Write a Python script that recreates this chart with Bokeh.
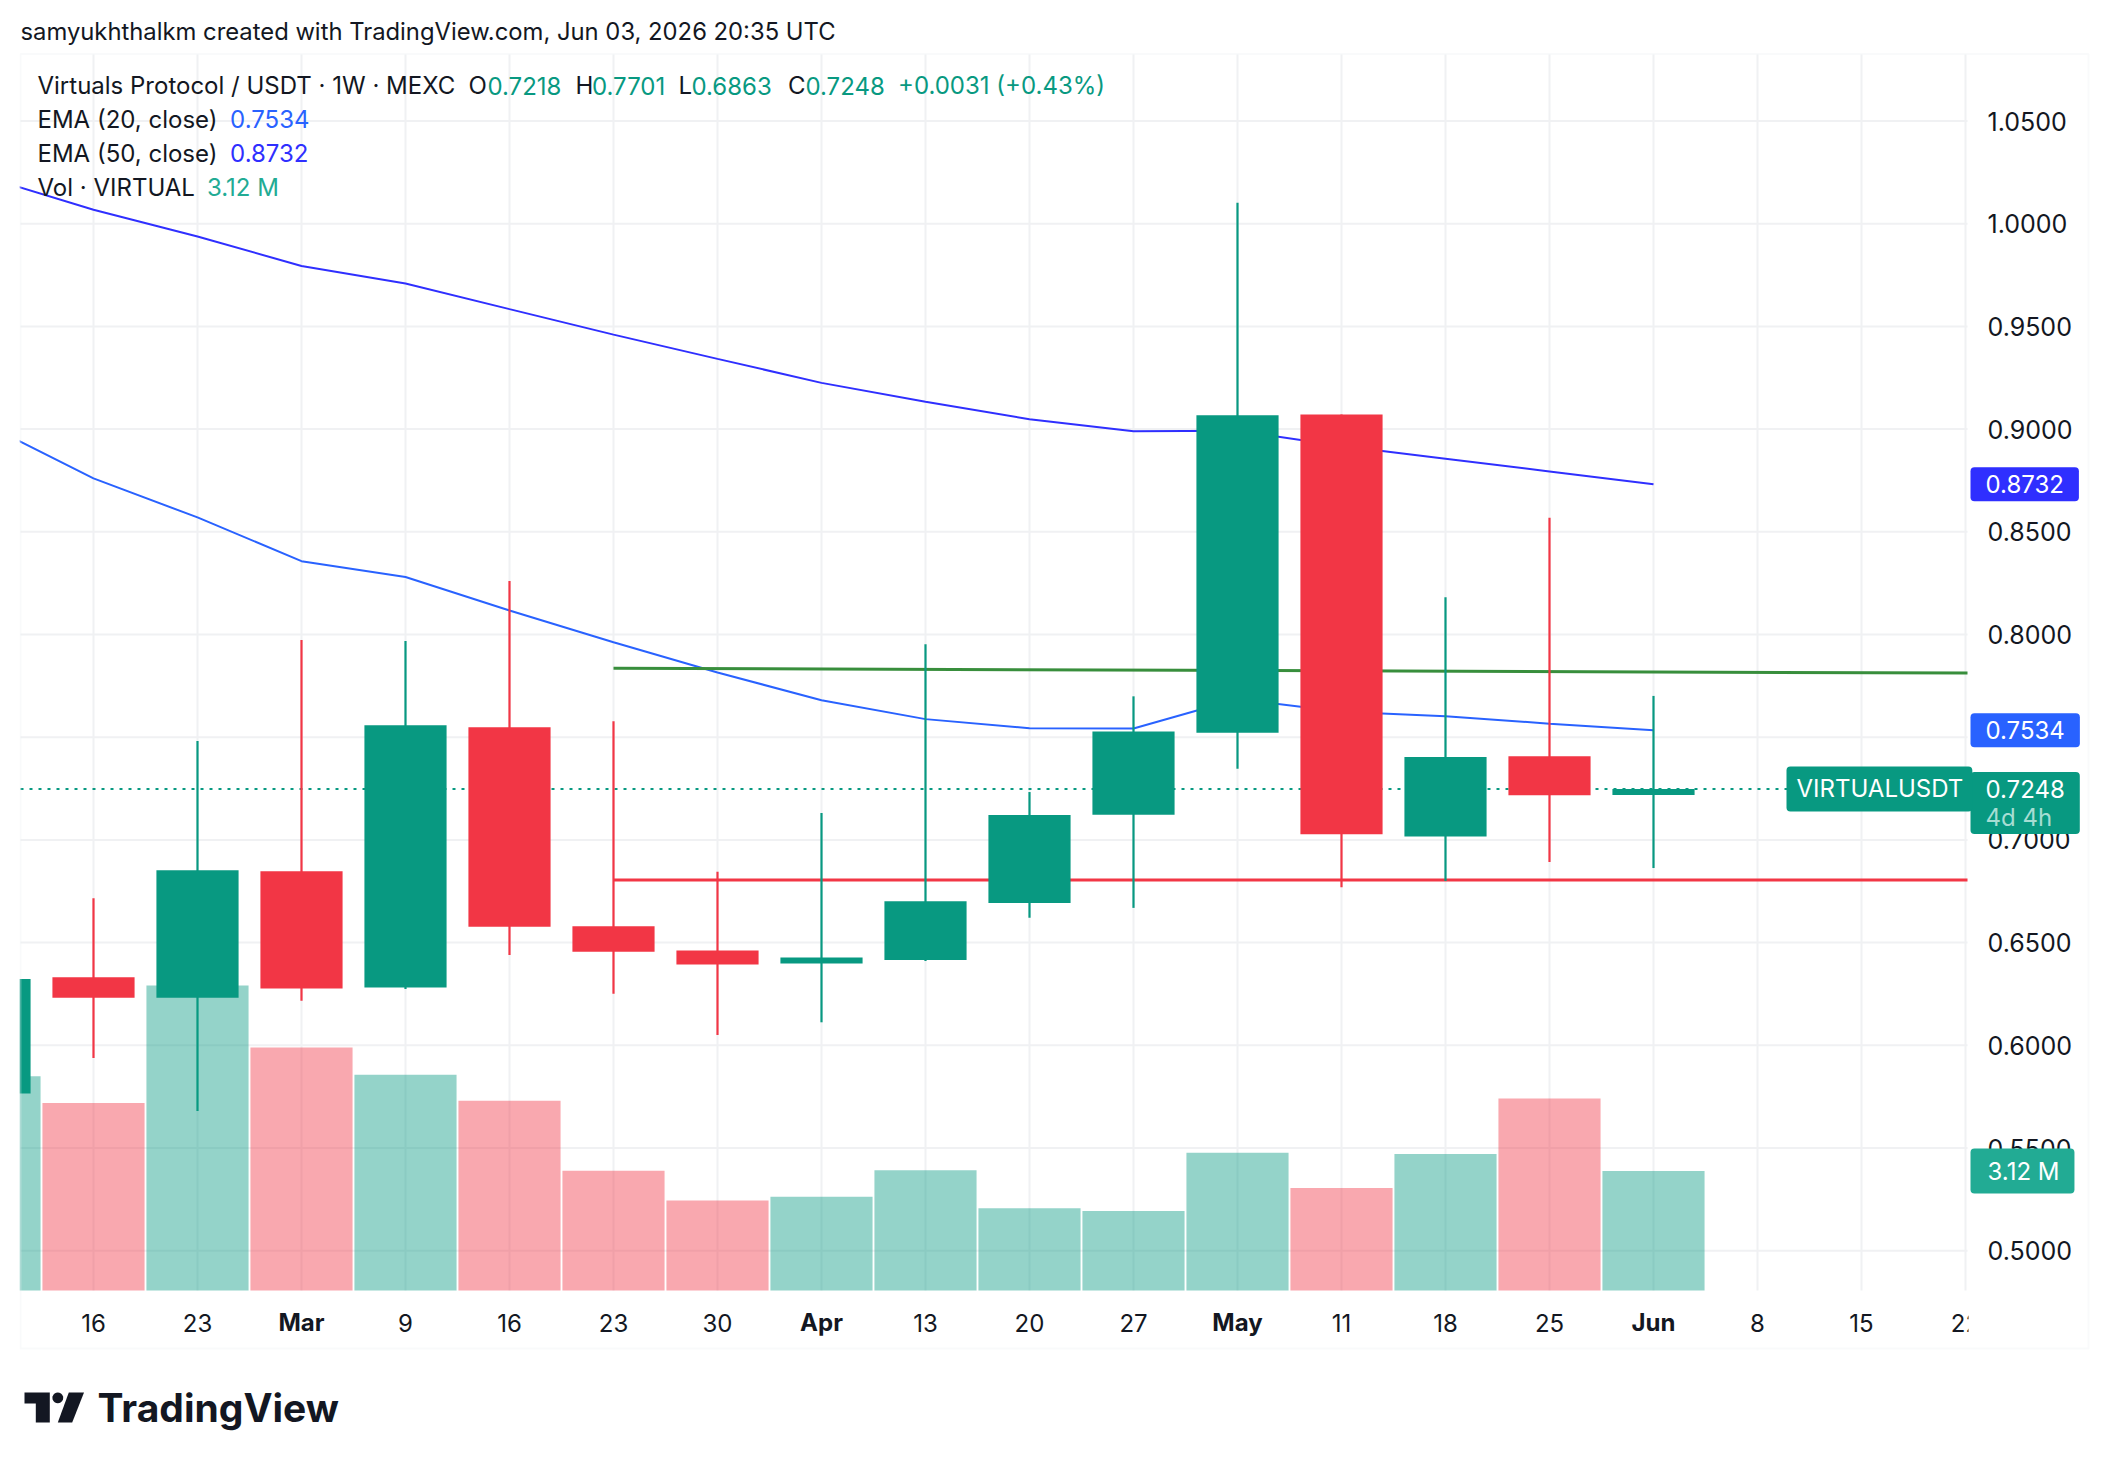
import math
from bokeh.plotting import figure
from bokeh.models import (Range1d, FixedTicker, Label, PolyAnnotation, BoxAnnotation,
                          ColumnDataSource, PrintfTickFormatter)
from bokeh.embed import file_html
from bokeh.resources import INLINE

# ---------------- data ----------------
weeks = ["2026-02-09", "2026-02-16", "2026-02-23", "2026-03-02", "2026-03-09",
         "2026-03-16", "2026-03-23", "2026-03-30", "2026-04-06", "2026-04-13",
         "2026-04-20", "2026-04-27", "2026-05-04", "2026-05-11", "2026-05-18",
         "2026-05-25", "2026-06-01"]
opens = [0.5765, 0.6331, 0.6231, 0.6847, 0.6281, 0.7548, 0.6579, 0.6462, 0.6398,
         0.6415, 0.6693, 0.7123, 0.7522, 0.9071, 0.7016, 0.7407, 0.7218]
highs = [0.6400, 0.6716, 0.7481, 0.7973, 0.7968, 0.8261, 0.7578, 0.6845, 0.7131,
         0.7953, 0.7233, 0.7699, 1.0102, 0.9071, 0.8181, 0.8568, 0.7701]
lows = [0.5700, 0.5938, 0.5680, 0.6217, 0.6274, 0.6440, 0.6251, 0.6050, 0.6112,
        0.6410, 0.6621, 0.6669, 0.7347, 0.6770, 0.6800, 0.6893, 0.6863]
closes = [0.6323, 0.6231, 0.6852, 0.6276, 0.7558, 0.6577, 0.6455, 0.6393, 0.6428,
          0.6701, 0.7121, 0.7528, 0.9068, 0.7027, 0.7403, 0.7217, 0.7248]
volumes_m = [5.60, 4.90, 7.97, 6.35, 5.64, 4.96, 3.13, 2.35, 2.45, 3.14, 2.15,
             2.08, 3.60, 2.68, 3.57, 5.02, 3.12]
ema20 = [0.9015, 0.8760, 0.8570, 0.8357, 0.8280, 0.8117, 0.7962, 0.7815, 0.7680,
         0.7588, 0.7544, 0.7542, 0.7686, 0.7624, 0.7602, 0.7566, 0.7534]
ema50 = [1.0222, 1.0068, 0.9938, 0.9794, 0.9709, 0.9584, 0.9460, 0.9342, 0.9225,
         0.9133, 0.9048, 0.8989, 0.8992, 0.8918, 0.8856, 0.8794, 0.8732]
x_tick_labels = ["16", "23", "Mar", "9", "16", "23", "30", "Apr", "13", "20", "27",
                 "May", "11", "18", "25", "Jun", "8", "15", "22"]
month_names = ["Mar", "Apr", "May", "Jun"]
y_tick_values = [0.50, 0.55, 0.60, 0.65, 0.70, 0.75, 0.80, 0.85, 0.90, 0.95, 1.00, 1.05]
level_start_week = "2026-03-23"
resistance_level = [0.7836, 0.7812]   # green drawn line (start, right edge)
support_level = [0.6805, 0.6805]      # red drawn line
time_left = "4d 4h"
title_text = "samyukhthalkm created with TradingView.com, Jun 03, 2026 20:35 UTC"

# ---------------- geometry / style ----------------
W, H = 2092, 1452
PX, X0 = 104.0, -11.0                 # px per week, page x of first week
PL, PR, PT, PB = 20, 1967, 54, 1290   # plot area on the page
Y105, PPU = 120.5, 2054.0             # page y of 1.05, px per price unit
VPX = 38.27                           # px per million volume
UP, DOWN, TXT, FONT = "#089981", "#F23645", "#131722", "Inter"
GRID = "#f0f1f3"


def xi(px):
    return (px - X0) / PX


def pr(py):
    return 1.05 - (py - Y105) / PPU


idx = list(range(len(weeks)))
colors = [UP if c >= o else DOWN for o, c in zip(opens, closes)]
src = ColumnDataSource(dict(
    x=idx, o=opens, h=highs, l=lows, c=closes,
    top=[max(o, c) for o, c in zip(opens, closes)],
    bottom=[min(o, c) for o, c in zip(opens, closes)],
    color=colors, vol=volumes_m))

p = figure(width=W, height=H, output_backend="svg", toolbar_location=None,
           x_range=Range1d(xi(0), xi(W)), y_range=Range1d(pr(H), pr(0)),
           x_axis_location="below", y_axis_location="right", min_border=0,
           min_border_left=0, min_border_right=0, min_border_top=0, min_border_bottom=0)
p.extra_y_ranges = {"vol": Range1d(-(H - PB) / VPX, PB / VPX)}
p.background_fill_color = "white"
p.border_fill_color = "white"
p.outline_line_color = None
p.xgrid.visible = False
p.ygrid.visible = False

tick_pos = [i + 1 for i in range(len(x_tick_labels))]

# grid lines limited to the plot area
p.segment(x0=tick_pos, y0=[pr(PB)] * len(tick_pos), x1=tick_pos, y1=[pr(PT)] * len(tick_pos),
          line_color=GRID, line_width=2, level="underlay")
p.segment(x0=[xi(PL)] * len(y_tick_values), y0=y_tick_values,
          x1=[xi(PR)] * len(y_tick_values), y1=y_tick_values,
          line_color=GRID, line_width=2, level="underlay")

# x axis
p.xaxis.fixed_location = pr(PB)
p.xaxis.ticker = FixedTicker(ticks=tick_pos)
p.xaxis.major_label_overrides = {t: ("" if lab in month_names else lab)
                                 for t, lab in zip(tick_pos, x_tick_labels)}
p.xaxis.axis_line_color = None
p.xaxis.major_tick_line_color = None
p.xaxis.minor_tick_line_color = None
p.xaxis.major_label_text_font = FONT
p.xaxis.major_label_text_font_size = "24px"
p.xaxis.major_label_text_color = TXT
p.xaxis.major_label_standoff = 17

# y axis (price scale)
p.yaxis.fixed_location = xi(PR)
p.yaxis.ticker = FixedTicker(ticks=y_tick_values)
p.yaxis.formatter = PrintfTickFormatter(format="%.4f")
p.yaxis.axis_line_color = None
p.yaxis.major_tick_line_color = None
p.yaxis.minor_tick_line_color = None
p.yaxis.major_label_text_font = FONT
p.yaxis.major_label_text_font_size = "25px"
p.yaxis.major_label_text_color = TXT
p.yaxis.major_label_standoff = 14

# volume
p.vbar(x="x", width=0.982, top="vol", bottom=0, y_range_name="vol",
       fill_color="color", fill_alpha=0.43, line_color=None, source=src)

# EMAs
p.line(idx, ema20, line_color="#2962ff", line_width=2)
p.line(idx, ema50, line_color="#2f2fff", line_width=2)

# drawn levels
ls = weeks.index(level_start_week)
p.line([ls, xi(PR)], resistance_level, line_color="#388e3c", line_width=3)
p.line([ls, xi(PR)], support_level, line_color="#f23645", line_width=3)
# last price line
p.line([xi(PL), xi(PR)], [closes[-1], closes[-1]], line_color=UP, line_width=2,
       line_dash="3 6")

# candles
p.segment(x0="x", y0="h", x1="x", y1="l", line_color="color", line_width=2.2, source=src)
p.vbar(x="x", width=0.79, top="top", bottom="bottom", fill_color="color",
       line_color=None, source=src)

# white masks outside the plot area (left margin, clipped end of the time axis)
p.quad(left=[xi(-60)], right=[xi(PL - 1)], bottom=[pr(H + 60)], top=[pr(-60)],
       fill_color="white", line_color=None, level="overlay")
p.add_layout(BoxAnnotation(right=PL - 1, right_units="screen",
                           fill_color="white", fill_alpha=1, line_color=None))
p.add_layout(BoxAnnotation(left=PR + 1, right=2087, top=H - (PB + 2), bottom=H - 1346,
                           left_units="screen", right_units="screen",
                           top_units="screen", bottom_units="screen",
                           fill_color="white", fill_alpha=1, line_color=None))


def sl(text, xr, yr, color=TXT, size="24px", style="normal", align="left"):
    p.add_layout(Label(x=xr, y=H - yr, x_units="screen", y_units="screen",
                       text=text, text_color=color, text_font=FONT,
                       text_font_size=size, text_font_style=style,
                       text_align=align, text_baseline="middle"))


# title
sl(title_text, 20, 31, size="23.8px")
# legend rows
sl("Virtuals Protocol / USDT \u00b7 1W \u00b7 MEXC", 37, 85)
sl("O", 468, 85); sl(f"{opens[-1]:.4f}", 487, 85, UP)
sl("H", 575, 85); sl(f"{highs[-1]:.4f}", 591.5, 85, UP)
sl("L", 678, 85); sl(f"{lows[-1]:.4f}", 691, 85, UP)
sl("C", 787.5, 85); sl(f"{closes[-1]:.4f}", 805, 85, UP)
chg = closes[-1] - closes[-2]
sl(f"+{chg:.4f} (+{chg / closes[-2] * 100:.2f}%)", 897.5, 85, UP)
sl("EMA (20, close)", 37, 118.6); sl(f"{ema20[-1]:.4f}", 229.6, 118.6, "#2962ff")
sl("EMA (50, close)", 37, 152.6); sl(f"{ema50[-1]:.4f}", 229.6, 152.6, "#2f2fff")
sl("Vol \u00b7 VIRTUAL", 37, 186.8); sl(f"{volumes_m[-1]:.2f} M", 206.4, 186.8, "#22ab94")

# month labels (bold)
for t, lab in zip(tick_pos, x_tick_labels):
    if lab in month_names:
        p.add_layout(Label(x=t, y=H - 1322, x_units="data", y_units="screen",
                           text=lab, text_color=TXT, text_font=FONT,
                           text_font_size="24px", text_font_style="bold",
                           text_align="center", text_baseline="middle"))


# padding order used by bokeh: (left, right, top, bottom); the box is centred on y
def tag(text, y, bg, xr=1970, pad=(15, 15, 8, 8), yname="default", color="white", yoff=0):
    p.add_layout(Label(x=xr, y=y, x_units="screen", y_units="data",
                       y_range_name=yname, text=text, text_color=color,
                       text_font=FONT, text_font_size="24px", y_offset=yoff,
                       text_align="left", text_baseline="middle",
                       background_fill_color=bg, border_radius=4, padding=pad))


tag(f"{ema50[-1]:.4f}", ema50[-1], "#2f2fff")
tag(f"{ema20[-1]:.4f}", ema20[-1], "#2962ff")
tag(f"{closes[-1]:.4f}", closes[-1], UP, pad=(15, 15, 8, 36), yoff=-14)
p.add_layout(Label(x=1985, y=H - 817, x_units="screen", y_units="screen",
                   text=time_left, text_color="#a6ddd3", text_font=FONT,
                   text_font_size="24px", text_align="left", text_baseline="middle"))
tag("VIRTUALUSDT", closes[-1], UP, xr=1786, pad=(10, 9, 8, 8))
tag(f"{volumes_m[-1]:.2f} M", volumes_m[-1], "#22ab94", yname="vol", pad=(17, 15, 8, 8))

# outer frame
p.add_layout(PolyAnnotation(xs=[PL, 2088, 2088, PL], ys=[H - 53.5, H - 53.5, H - 1348, H - 1348],
                            xs_units="screen", ys_units="screen", fill_alpha=0,
                            line_color="#eceef2", line_width=2))

# TradingView logo
T = [(24, 1392), (49.3, 1392), (49.3, 1422), (35.3, 1422), (35.3, 1403), (24, 1403)]
S = [(68.3, 1392), (83.5, 1392), (71.7, 1422), (57.3, 1422)]
for shape in (T, S):
    p.add_layout(PolyAnnotation(xs=[a for a, b in shape], ys=[H - b for a, b in shape],
                                xs_units="screen", ys_units="screen",
                                fill_color="#131722", fill_alpha=1, line_color=None))
dot = [(57.3 + 5.4 * math.cos(k * math.pi / 10), 1397.3 + 5.4 * math.sin(k * math.pi / 10))
       for k in range(20)]
p.add_layout(PolyAnnotation(xs=[a for a, b in dot], ys=[H - b for a, b in dot],
                            xs_units="screen", ys_units="screen",
                            fill_color="#131722", fill_alpha=1, line_color=None))
sl("TradingView", 97, 1407, size="39px", style="bold")

open("out.html", "w").write(file_html(p, INLINE))
